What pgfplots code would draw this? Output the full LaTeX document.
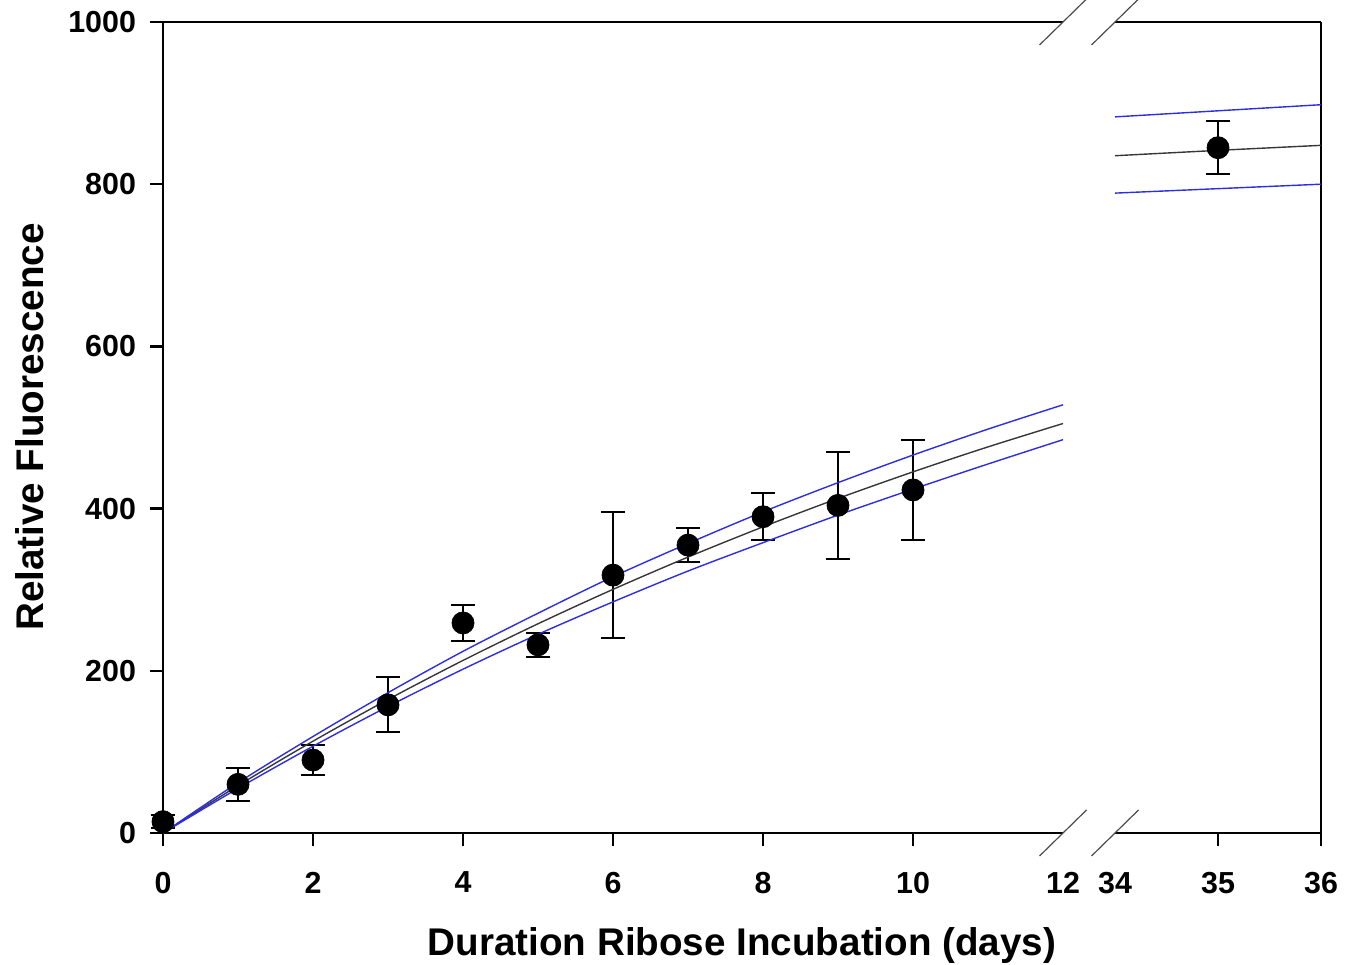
\documentclass[border=0pt]{standalone}
\usepackage{fontspec}
\setmainfont{Liberation Sans}
\usepackage{pgfplots}
\pgfplotsset{compat=1.18}
\definecolor{fitblue}{RGB}{45,45,225}
\definecolor{fitgray}{RGB}{55,55,55}
\begin{document}
\begin{tikzpicture}
\useasboundingbox (0,0) rectangle (679pt,482pt);
\pgfplotsset{
  brk/.style={
    scale only axis, height=405.5pt, ymin=0, ymax=1000,
    axis x line*=box, tick align=outside, xtick pos=bottom,
    axis line style={line width=1.3pt},
    major tick style={line width=1.3pt, black},
    major tick length=6.5pt,
    tick label style={font=\bfseries\fontsize{15.2}{18}\selectfont},
    xticklabel style={yshift=-9.5pt},
    yticklabel style={xshift=-3.5pt},
    /pgf/number format/assume math mode=true,
    /pgf/number format/1000 sep={},
    clip=false,
  },
  pts/.style={only marks, mark=*, mark size=5.5pt, black, mark options={fill=black},
    error bars/.cd, y dir=both, y explicit,
    error bar style={line width=1pt, black},
    error mark options={rotate=90, mark size=6pt, line width=1pt, black}},
  fit/.style={line width=0.7pt, smooth},
}
% left segment: 0 to 12 days
\begin{axis}[brk, at={(81.5pt,65.5pt)}, anchor=south west, width=450pt,
  xmin=0, xmax=12, axis y line*=left, ytick pos=left,
  ytick={0,200,...,1000}, xtick={0,2,...,10},
  extra x ticks={12}, extra x tick style={major tick style={draw=none}}]
\addplot[pts] coordinates {
  (0,14) +- (0,8)
  (1,60) +- (0,20)
  (2,90) +- (0,18)
  (3,158) +- (0,34)
  (4,259) +- (0,22)
  (5,232) +- (0,15)
  (6,318) +- (0,78)
  (7,355) +- (0,21)
  (8,390) +- (0,29)
  (9,404) +- (0,66)
  (10,423) +- (0,62)
};
\addplot[fit, fitgray] coordinates {
  (0,0) (1,58.4) (2,113.2) (3,164.6) (4,212.8) (5,258.0) (6,300.4)
  (7,340.2) (8,377.5) (9,412.5) (10,445.3) (11,476.1) (12,504.9)
};
\addplot[fit, fitblue] coordinates {
  (0,0) (1,62) (2,119) (3,173) (4,224) (5,271) (6,316)
  (7,357) (8,396) (9,432) (10,466) (11,498) (12,528)
};
\addplot[fit, fitblue] coordinates {
  (0,0) (1,55) (2,107) (3,156) (4,202) (5,245) (6,285)
  (7,323) (8,358) (9,392) (10,424) (11,455) (12,485)
};
\draw[black!70, line width=0.6pt] (axis cs:12,0) ++(-11.75pt,-11.5pt) -- ++(23.5pt,23pt);
\draw[black!70, line width=0.6pt] (axis cs:12,1000) ++(-11.75pt,-11.5pt) -- ++(23.5pt,23pt);
\end{axis}
% right segment: 34 to 36 days
\begin{axis}[brk, at={(557.5pt,65.5pt)}, anchor=south west, width=103pt,
  xmin=34, xmax=36, axis y line*=right, ytick=\empty,
  xtick={35,36}, extra x ticks={34}, extra x tick style={major tick style={draw=none}}]
\addplot[pts] coordinates {
  (35,845) +- (0,33)
};
\addplot[fit, fitgray] coordinates {(34,835.1) (35,841.7) (36,847.9)};
\addplot[fit, fitblue] coordinates {(34,883) (35,890.5) (36,898)};
\addplot[fit, fitblue] coordinates {(34,789) (35,794.5) (36,800)};
\draw[black!70, line width=0.6pt] (axis cs:34,0) ++(-11.75pt,-11.5pt) -- ++(23.5pt,23pt);
\draw[black!70, line width=0.6pt] (axis cs:34,1000) ++(-11.75pt,-11.5pt) -- ++(23.5pt,23pt);
\end{axis}
\node[font=\bfseries\fontsize{19.3}{23}\selectfont, rotate=90, anchor=base] at (21.5pt,268.5pt) {Relative Fluorescence};
\node[font=\bfseries\fontsize{19.3}{23}\selectfont, anchor=base] at (371pt,4.5pt) {Duration Ribose Incubation (days)};
\end{tikzpicture}
\end{document}
